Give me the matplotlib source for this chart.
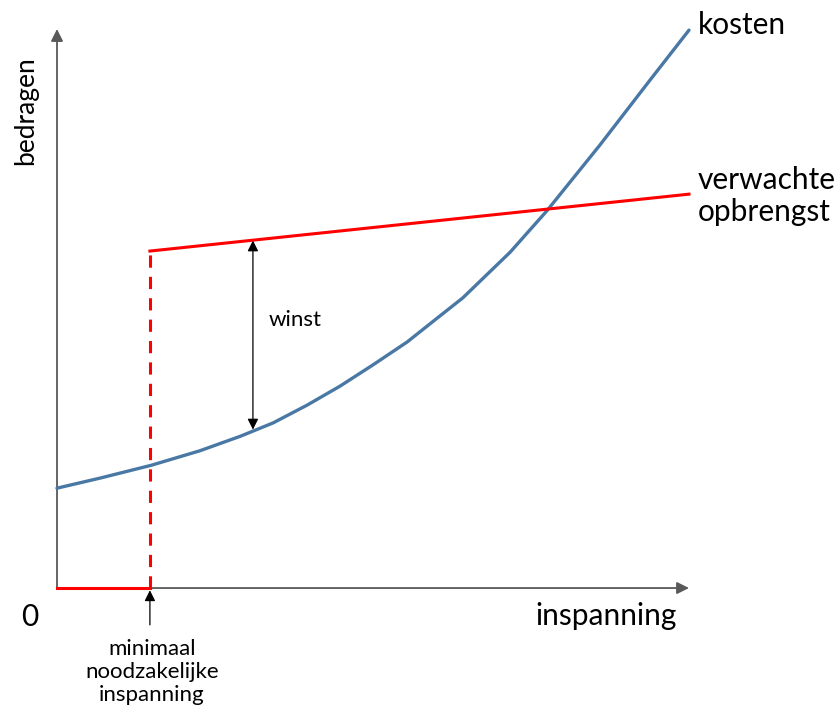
import matplotlib.pyplot as plt

plt.rcParams['font.family'] = ['Lato', 'DejaVu Sans']

# kosten curve (inspanning 0..100, bedragen 0..100)
kosten_x = [0, 6.8, 14.9, 22.6, 29.0, 34.2, 39.6, 44.8, 50.0, 55.4, 60.4, 64.2,
            71.7, 77.5, 85.9, 93.8, 100]
kosten_y = [17.9, 19.7, 22.0, 24.6, 27.2, 29.6, 32.8, 36.2, 40.0, 44.1, 48.6, 52.0,
            60.2, 67.6, 79.4, 91.0, 100]

# verwachte opbrengst: zero until the minimum effort, then a slowly rising line
min_inspanning = 14.7
opbrengst_x = [min_inspanning, 100]
opbrengst_y = [60.4, 70.6]

winst_x = 31.0
winst_top = 62.3
winst_bottom = 28.4

fig = plt.figure(figsize=(8.35, 7.13), dpi=100)
ax = fig.add_axes([0, 0, 1, 1])
ax.set_xlim(-9.02, 123.1)
ax.set_ylim(-22.4, 105.4)
ax.axis("off")

axis_col = "#595959"
ax.annotate("", xy=(100, 0), xytext=(0, 0),
            arrowprops=dict(arrowstyle="-|>", color=axis_col, lw=1.3,
                            mutation_scale=18, shrinkA=0, shrinkB=0), zorder=1)
ax.annotate("", xy=(0, 100.2), xytext=(0, 0),
            arrowprops=dict(arrowstyle="-|>", color=axis_col, lw=1.3,
                            mutation_scale=18, shrinkA=0, shrinkB=0), zorder=1)

ax.plot(kosten_x, kosten_y, color="#4a78a5", lw=2.4, solid_capstyle="round", zorder=3)

ax.plot([0, min_inspanning], [0, 0], color="#ff0000", lw=2.2, zorder=4)
ax.plot([min_inspanning, min_inspanning], [0, opbrengst_y[0]], color="#ff0000",
        lw=2.2, linestyle=(0, (4, 3)), zorder=4)
ax.plot(opbrengst_x, opbrengst_y, color="#ff0000", lw=2.2, zorder=4)

ax.annotate("", xy=(winst_x, winst_top), xytext=(winst_x, winst_bottom),
            arrowprops=dict(arrowstyle="<|-|>", color="black", lw=0.9,
                            mutation_scale=16, shrinkA=0, shrinkB=0))
ax.text(winst_x + 6.7, 48.0, "winst", fontsize=16, ha="center", va="center")

ax.annotate("", xy=(min_inspanning, -0.4), xytext=(min_inspanning, -6.6),
            arrowprops=dict(arrowstyle="-|>", color="black", lw=0.9,
                            mutation_scale=16, shrinkA=0, shrinkB=0))
ax.text(min_inspanning + 0.3, -15.1, "minimaal\nnoodzakelijke\ninspanning",
        fontsize=16, ha="center", va="center", linespacing=1.2)

ax.text(101.4, 100.9, "kosten", fontsize=21.5, ha="left", va="center")
ax.text(101.4, 70.3, "verwachte\nopbrengst", fontsize=21.5, ha="left", va="center",
        linespacing=1.15)
ax.text(-4.9, 85.6, "bedragen", fontsize=19, ha="center", va="center", rotation=90)
ax.text(-4.3, -5.2, "0", fontsize=21.5, ha="center", va="center")
ax.text(86.9, -5.0, "inspanning", fontsize=21.5, ha="center", va="center")

plt.savefig("out.png", dpi=100)
